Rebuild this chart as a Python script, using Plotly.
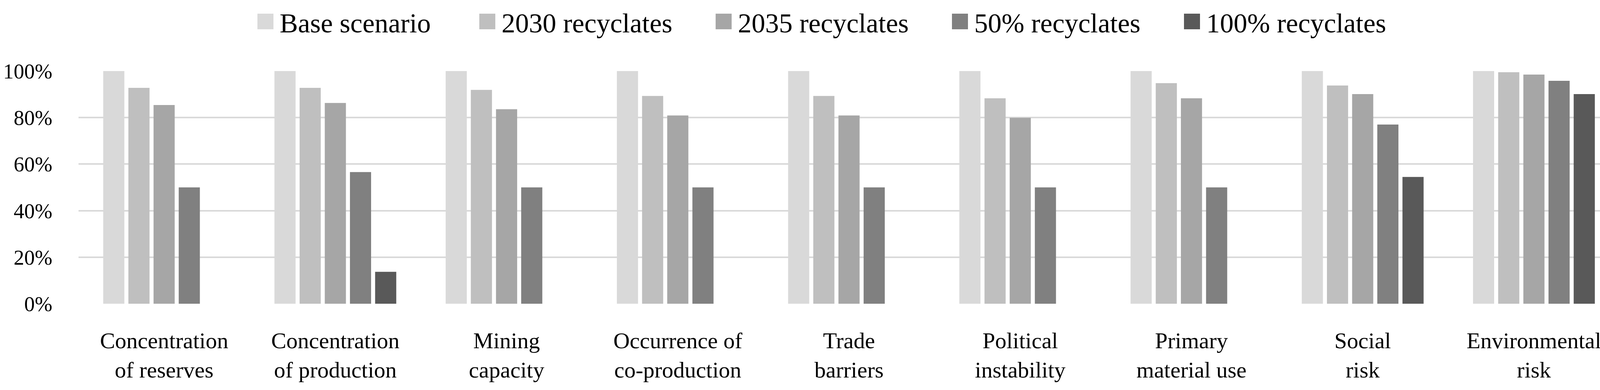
import plotly.graph_objects as go

# ---- data ----
categories = [
    "Concentration<br>of reserves",
    "Concentration<br>of production",
    "Mining<br>capacity",
    "Occurrence of<br>co-production",
    "Trade<br>barriers",
    "Political<br>instability",
    "Primary<br>material use",
    "Social<br>risk",
    "Environmental<br>risk",
]
series_names = ["Base scenario", "2030 recyclates", "2035 recyclates",
                "50% recyclates", "100% recyclates"]
base_scenario = [1.00, 1.00, 1.00, 1.00, 1.00, 1.00, 1.00, 1.00, 1.00]
recyclates_2030 = [0.928, 0.928, 0.919, 0.893, 0.893, 0.883, 0.948, 0.938, 0.995]
recyclates_2035 = [0.854, 0.863, 0.836, 0.809, 0.809, 0.799, 0.883, 0.901, 0.985]
recyclates_50 = [0.500, 0.566, 0.500, 0.500, 0.500, 0.500, 0.500, 0.770, 0.958]
recyclates_100 = [0.0, 0.137, 0.0, 0.0, 0.0, 0.0, 0.0, 0.545, 0.901]
tick_vals = [0, 0.2, 0.4, 0.6, 0.8, 1.0]
tick_text = ["0%", "20%", "40%", "60%", "80%", "100%"]

colors = ["#d9d9d9", "#bfbfbf", "#a6a6a6", "#808080", "#595959"]
all_series = [base_scenario, recyclates_2030, recyclates_2035,
              recyclates_50, recyclates_100]

# ---- layout geometry (pixels) ----
W, H = 4179, 999
ML, MR, MT, MB = 201, 33, 182, 221
FONT = "Liberation Serif"

fig = go.Figure()
for name, vals, col in zip(series_names, all_series, colors):
    fig.add_trace(go.Bar(
        x=categories, y=vals, name=name,
        marker=dict(color=col, line=dict(width=0)),
        showlegend=False,
    ))

# manual legend (large square swatches)
plot_w = W - ML - MR
plot_h = H - MT - MB
def px_x(p):
    return (p - ML) / plot_w
def px_y(p):
    return (H - MB - p) / plot_h

legend_swatch_px = [659, 1227, 1832, 2437, 3031]
sw_w, sw_h = 41, 40
legend_cy = 55
shapes = []
annotations = []
for name, col, sx in zip(series_names, colors, legend_swatch_px):
    shapes.append(dict(
        type="rect", xref="paper", yref="paper",
        x0=px_x(sx), x1=px_x(sx + sw_w),
        y0=px_y(legend_cy + sw_h / 2), y1=px_y(legend_cy - sw_h / 2),
        fillcolor=col, line=dict(width=0),
    ))
    annotations.append(dict(
        xref="paper", yref="paper",
        x=px_x(sx + sw_w + 14), y=px_y(legend_cy + 4),
        xanchor="left", yanchor="middle",
        text=name, showarrow=False,
        font=dict(family=FONT, size=70, color="#000000"),
    ))

fig.update_layout(
    template="none",
    width=W, height=H,
    margin=dict(l=ML, r=MR, t=MT, b=MB, pad=0, autoexpand=False),
    paper_bgcolor="white", plot_bgcolor="white",
    barmode="group", bargap=0.265, bargroupgap=0.16,
    font=dict(family=FONT, size=58, color="#000000"),
    shapes=shapes, annotations=annotations,
    showlegend=False,
)
fig.update_xaxes(
    automargin=False,
    showgrid=False, showline=False, zeroline=False,
    ticks="", tickfont=dict(family=FONT, size=58, color="#000000"),
    ticklabelstandoff=55,
)
fig.update_yaxes(
    automargin=False,
    range=[0, 1.0], tickvals=tick_vals, ticktext=tick_text,
    showgrid=True, gridcolor="#d9d9d9", gridwidth=4,
    zeroline=False, showline=False, ticks="",
    tickfont=dict(family=FONT, size=54, color="#000000"),
    ticklabelstandoff=66,
)

fig.write_html(
    "out.html",
    config={"displayModeBar": False},
    post_script="document.body.style.margin='0';document.body.style.overflow='hidden';",
)
